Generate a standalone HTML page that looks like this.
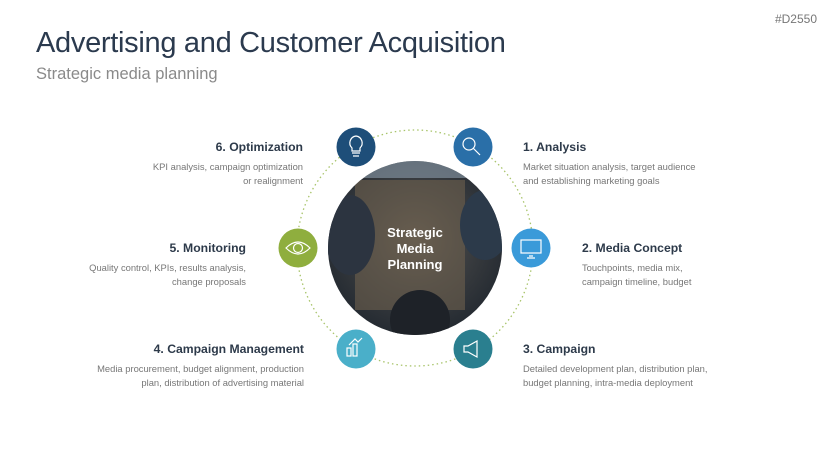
<!DOCTYPE html>
<html><head><meta charset="utf-8"><style>
body{margin:0;width:829px;height:466px;background:#fff;font-family:"Liberation Sans",sans-serif;position:relative;overflow:hidden}
.a{position:absolute;white-space:nowrap}
h1{position:absolute;left:36px;top:27px;margin:0;font-weight:normal;font-size:29px;color:#2b3a4e;letter-spacing:-0.3px}
.sub{left:36px;top:65px;font-size:16.5px;color:#8a8a8a}
.id{right:12px;top:12px;font-size:12px;color:#777}
.h{font-size:12.2px;font-weight:bold;color:#2d3a4a}
.d{font-size:9.4px;color:#777;line-height:14px}
.r{text-align:right}
</style></head><body>
<div class="a id">#D2550</div>
<h1>Advertising and Customer Acquisition</h1>
<div class="a sub">Strategic media planning</div>
<svg class="a" style="left:0;top:0" width="829" height="466">
<defs>
<radialGradient id="p" cx="50%" cy="45%" r="55%">
<stop offset="0" stop-color="#5e5850"/><stop offset="0.5" stop-color="#3e4042"/><stop offset="1" stop-color="#252b32"/>
</radialGradient>
<clipPath id="c"><circle cx="415" cy="248" r="87"/></clipPath>
</defs>
<circle cx="415" cy="248" r="118" fill="none" stroke="#a8c46a" stroke-width="1.3" stroke-dasharray="1.5 3"/>
<circle cx="415" cy="248" r="87" fill="url(#p)"/>
<g clip-path="url(#c)">
<rect x="355" y="180" width="110" height="130" fill="#6e604e" opacity="0.6"/>
<rect x="328" y="160" width="174" height="18" fill="#8c9cab" opacity="0.6"/>
<ellipse cx="350" cy="235" rx="25" ry="40" fill="#2c3440"/>
<ellipse cx="485" cy="225" rx="25" ry="35" fill="#2c3a4a"/>
<ellipse cx="420" cy="320" rx="30" ry="30" fill="#1e2228"/>
</g>
<text x="415" y="237" text-anchor="middle" font-family="Liberation Sans" font-weight="bold" font-size="13" fill="#fff">Strategic</text>
<text x="415" y="253" text-anchor="middle" font-family="Liberation Sans" font-weight="bold" font-size="13" fill="#fff">Media</text>
<text x="415" y="269" text-anchor="middle" font-family="Liberation Sans" font-weight="bold" font-size="13" fill="#fff">Planning</text>
<g stroke="#fff" stroke-width="1.2" fill="none">
<circle cx="356" cy="147" r="19.5" fill="#1e4e79" stroke="none"/>
<path d="M352 153h8M353 156h6M356 136a7 7 0 0 0-4 12v3h8v-3a7 7 0 0 0-4-12z"/>
<circle cx="473" cy="147" r="19.5" fill="#2a6fa8" stroke="none"/>
<circle cx="469" cy="144" r="6"/><path d="M473 148l7 7"/>
<circle cx="531" cy="248" r="19.5" fill="#3a9ad9" stroke="none"/>
<rect x="521" y="240" width="20" height="13"/><path d="M529 256h4M527 258h8"/>
<circle cx="473" cy="349" r="19.5" fill="#2a7f8f" stroke="none"/>
<path d="M464 346v6h4l9 5v-16l-9 5z"/>
<circle cx="356" cy="349" r="19.5" fill="#4aafc9" stroke="none"/>
<rect x="347" y="348" width="4" height="8"/><rect x="353" y="344" width="4" height="12"/><path d="M349 345l6-6 3 3 4-4"/>
<circle cx="298" cy="248" r="19.5" fill="#8fae3e" stroke="none"/>
<path d="M286 248q12-12 24 0q-12 12-24 0z"/><circle cx="298" cy="248" r="4.5"/>
</g>
</svg>
<div class="a h r" style="right:526px;top:140px">6. Optimization</div>
<div class="a d r" style="right:526px;top:160px">KPI analysis, campaign optimization<br>or realignment</div>
<div class="a h" style="left:523px;top:140px">1. Analysis</div>
<div class="a d" style="left:523px;top:160px">Market situation analysis, target audience<br>and establishing marketing goals</div>
<div class="a h r" style="right:583px;top:241px">5. Monitoring</div>
<div class="a d r" style="right:583px;top:261px">Quality control, KPIs, results analysis,<br>change proposals</div>
<div class="a h" style="left:582px;top:241px">2. Media Concept</div>
<div class="a d" style="left:582px;top:261px">Touchpoints, media mix,<br>campaign timeline, budget</div>
<div class="a h r" style="right:525px;top:342px">4. Campaign Management</div>
<div class="a d r" style="right:525px;top:362px">Media procurement, budget alignment, production<br>plan, distribution of advertising material</div>
<div class="a h" style="left:523px;top:342px">3. Campaign</div>
<div class="a d" style="left:523px;top:362px">Detailed development plan, distribution plan,<br>budget planning, intra-media deployment</div>
</body></html>
